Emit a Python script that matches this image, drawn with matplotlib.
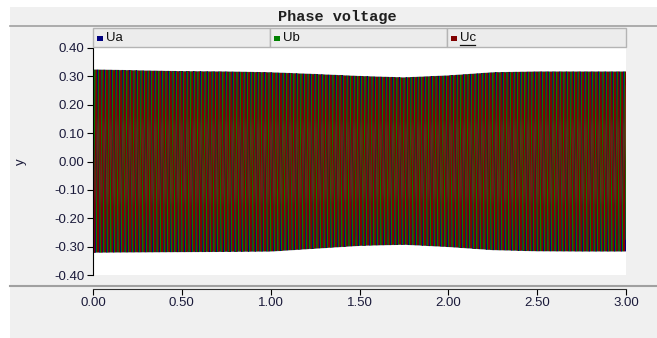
import numpy as np
import matplotlib
matplotlib.use("Agg")
import matplotlib.pyplot as plt
from matplotlib.patches import Rectangle
from matplotlib.lines import Line2D

# envelope of the phase voltages (time in s, peak in pu)
env_t = [0.0, 0.25, 0.5, 0.75, 1.0, 1.25, 1.5, 1.75, 2.0, 2.25, 2.5, 2.75, 3.0]
env_top = [0.323, 0.320, 0.317, 0.316, 0.313, 0.307, 0.300, 0.295, 0.302, 0.313, 0.316, 0.316, 0.316]
env_bot = [-0.320, -0.319, -0.318, -0.317, -0.316, -0.306, -0.296, -0.292, -0.300, -0.311, -0.315, -0.316, -0.316]
f_grid = 50.0
phase_names = ["Ua", "Ub", "Uc"]
phase_shift_deg = [0, -120, 120]
phase_colors = ["#000080", "#008000", "#800000"]

yticks = [0.40, 0.30, 0.20, 0.10, 0.00, -0.10, -0.20, -0.30, -0.40]
xticks = [0.0, 0.5, 1.0, 1.5, 2.0, 2.5, 3.0]

W, H = 657, 338
fig = plt.figure(figsize=(W / 100, H / 100), dpi=100)
fig.patch.set_facecolor("white")

def fx(px):
    return px / W

def fy(py):
    return 1 - py / H

# grey panel
fig.patches.append(Rectangle((fx(10), 0), 1 - fx(10), fy(7), transform=fig.transFigure,
                             facecolor="#f0f0f0", edgecolor="none", zorder=-5))
# title bar line
fig.lines.append(Line2D([fx(10), 1], [fy(26), fy(26)], transform=fig.transFigure,
                        color="#a0a0a0", lw=1.2))
fig.text(fx(337), fy(17), "Phase voltage", ha="center", va="center",
         family="Liberation Mono", fontweight="bold", fontsize=11, color="#202020")

# legend boxes
box_x = [93, 270, 447, 626]
for i, name in enumerate(phase_names):
    fig.patches.append(Rectangle((fx(box_x[i]), fy(47)), fx(box_x[i + 1] - box_x[i]), (47 - 28) / H,
                                 transform=fig.transFigure, facecolor="#ececec",
                                 edgecolor="#b4b4b4", lw=1, zorder=1))
    fig.patches.append(Rectangle((fx(box_x[i] + 4), fy(40.5)), fx(6), 5 / H,
                                 transform=fig.transFigure, facecolor=phase_colors[i],
                                 edgecolor="none", zorder=2))
    fig.text(fx(box_x[i] + 13), fy(38), name, ha="left", va="center",
             family="Liberation Sans", fontsize=9.5, color="#101010")
# underline under Uc
fig.lines.append(Line2D([fx(box_x[2] + 13), fx(box_x[2] + 28)], [fy(45), fy(45)],
                        transform=fig.transFigure, color="#101010", lw=0.9))

# main plot
ax = fig.add_axes([fx(93), fy(275), fx(626 - 93), (275 - 48) / H])
ax.set_facecolor("white")
t = np.arange(0, 3.0001, 0.0002)
top = np.interp(t, env_t, env_top)
bot = np.interp(t, env_t, env_bot)
for name, sh, col in zip(phase_names, phase_shift_deg, phase_colors):
    s = np.sin(2 * np.pi * f_grid * t + np.deg2rad(sh))
    v = np.where(s >= 0, s * top, -s * bot)
    ax.plot(t, v, color=col, lw=0.8)
ax.set_xlim(0, 3)
ax.set_ylim(-0.4, 0.4)
ax.set_yticks(yticks)
ax.set_yticklabels(["%.2f" % v for v in yticks], family="Liberation Sans", fontsize=9.5, color="#1a1a3a")
ax.set_xticks([])
for s in ["top", "right", "bottom"]:
    ax.spines[s].set_visible(False)
ax.spines["left"].set_color("black")
ax.tick_params(axis="y", direction="out", length=4, pad=2)
ax.set_ylabel("y", family="Liberation Sans", fontsize=9.5, color="#1a1a3a")
ax.yaxis.set_label_coords(fx(27 - 93) / fx(626 - 93), 0.5)

# separator line above x axis
fig.lines.append(Line2D([fx(10), 1], [fy(286), fy(286)], transform=fig.transFigure,
                        color="#a0a0a0", lw=1.5))

# x axis strip
axx = fig.add_axes([fx(93), fy(289), fx(626 - 93), 0.001])
axx.set_facecolor("none")
axx.set_xlim(0, 3)
axx.set_yticks([])
axx.set_xticks(xticks)
axx.set_xticklabels(["%.2f" % v for v in xticks], family="Liberation Sans", fontsize=9.5, color="#1a1a3a")
for s in ["top", "right", "left"]:
    axx.spines[s].set_visible(False)
axx.spines["bottom"].set_color("#303030")
axx.tick_params(axis="x", direction="out", length=4, pad=2)

fig.savefig("out.png", dpi=100)
